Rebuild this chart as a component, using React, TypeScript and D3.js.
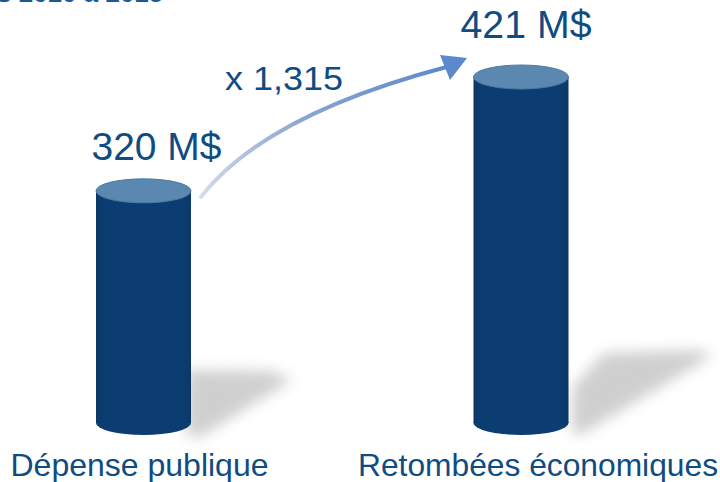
import React from 'react';
import * as d3 from 'd3';

// chart data
const categories = ['Dépense publique', 'Retombées économiques'];
const values = [320, 421];
const valueLabels = ['320 M$', '421 M$'];
const multiplierLabel = 'x 1,315';
const titleFragment = 's 2010 à 2015';

const W = 720;
const H = 482;

const BODY = '#0c3d72';
const TOP = '#5a88b0';
const TEXT = '#0f4c81';

const App: React.FC = () => {
  // scales (baseline is not zero in the original picture)
  const y = d3.scaleLinear().domain([114, 421]).range([423, 77]);
  const x = d3.scalePoint<string>().domain(categories).range([143.5, 521]);
  const halfW = 47.5;
  const ry = 12;
  const baseY = y(114);

  // arrow from top of first bar to top of second
  const p0: [number, number] = [x(categories[0])! + halfW + 10, y(values[0]) + 6];
  const p2: [number, number] = [x(categories[1])! - halfW - 27, y(values[1]) - 10];
  const ctrl: [number, number] = [265, 115];
  const arrowPath = d3.path();
  arrowPath.moveTo(p0[0], p0[1]);
  arrowPath.quadraticCurveTo(ctrl[0], ctrl[1], p2[0], p2[1]);

  const labelDx = [-4, 17];
  const valueDx = [13, 5];
  const valueDy = [-31, -39];
  const valueWidths = [130, 131];
  const labelWidths = [258, 360];

  return (
    <div style={{ position: 'absolute', left: 0, top: 0 }}>
      <svg width={W} height={H} style={{ display: 'block', background: '#fff' }}
        fontFamily="'Liberation Sans', Arial, sans-serif">
        <defs>
          <filter id="blur" x="-50%" y="-50%" width="200%" height="200%">
            <feGaussianBlur stdDeviation="7" />
          </filter>
          <linearGradient id="arrowGrad" gradientUnits="userSpaceOnUse"
            x1={p0[0]} y1={p0[1]} x2={p2[0]} y2={p2[1]}>
            <stop offset="0%" stopColor="#d4dcea" />
            <stop offset="45%" stopColor="#8aa6d0" />
            <stop offset="100%" stopColor="#5b89cc" />
          </linearGradient>
          <linearGradient id="bodyGrad" x1="0" x2="1" y1="0" y2="0">
            <stop offset="0%" stopColor="#0a3867" />
            <stop offset="10%" stopColor={BODY} />
            <stop offset="90%" stopColor={BODY} />
            <stop offset="100%" stopColor="#0a3867" />
          </linearGradient>
        </defs>

        {/* title, cut at the top edge as in the original */}
        <text x={-3} y={1.5} fontSize={26} fontWeight="bold" fill="#1b5a94">{titleFragment}</text>

        {/* shadows */}
        <polygon points="186,370 272,371 292,380 202,436 186,436" fill="#a0a0a0" opacity={0.5} filter="url(#blur)" />
        <polygon points="572,388 604,353 698,350 712,356 582,434 572,434" fill="#a0a0a0" opacity={0.5} filter="url(#blur)" />

        {/* cylinders */}
        {categories.map((c, i) => {
          const cx = x(c)!;
          const top = y(values[i]);
          return (
            <g key={c}>
              <ellipse cx={cx} cy={baseY} rx={halfW} ry={ry} fill={BODY} />
              <rect x={cx - halfW} y={top} width={halfW * 2} height={baseY - top} fill="url(#bodyGrad)" />
              <ellipse cx={cx} cy={top} rx={halfW} ry={ry} fill={TOP} stroke="#4d7aa3" strokeWidth={1} />
            </g>
          );
        })}

        {/* value labels */}
        {values.map((v, i) => (
          <text key={i} x={x(categories[i])! + valueDx[i]} y={y(v) + valueDy[i]}
            textAnchor="middle" fontSize={38} fill={TEXT}
            textLength={valueWidths[i]} lengthAdjust="spacingAndGlyphs">{valueLabels[i]}</text>
        ))}

        {/* arrow */}
        <path d={arrowPath.toString()} fill="none" stroke="url(#arrowGrad)" strokeWidth={4} strokeLinecap="round" />
        <polygon points="440,55 467,58 450,80" fill="#5b89cc" />
        <text x={284} y={90} textAnchor="middle" fontSize={33} fill={TEXT}
          textLength={118} lengthAdjust="spacingAndGlyphs">{multiplierLabel}</text>

        {/* category labels */}
        {categories.map((c, i) => (
          <text key={c} x={x(c)! + labelDx[i]} y={476} textAnchor="middle" fontSize={32}
            fill={TEXT} textLength={labelWidths[i]} lengthAdjust="spacingAndGlyphs">{c}</text>
        ))}
      </svg>
    </div>
  );
};

export default App;
